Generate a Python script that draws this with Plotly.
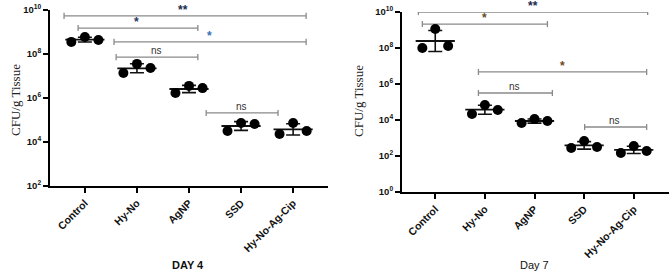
import numpy as np
import plotly.graph_objects as go

W, H = 669, 274

categories = ["Control", "Hy-No", "AgNP", "SSD", "Hy-No-Ag-Cip"]

# log10 CFU/g tissue, three replicates per group (left, middle, right point)
day4_log = [
    [8.55, 8.77, 8.64],
    [7.14, 7.55, 7.36],
    [6.23, 6.55, 6.45],
    [4.50, 4.86, 4.82],
    [4.36, 4.86, 4.50],
]
day7_log = [
    [8.00, 9.06, 8.11],
    [4.33, 4.83, 4.56],
    [3.83, 4.06, 3.94],
    [2.44, 2.83, 2.50],
    [2.17, 2.56, 2.28],
]

# significance comparisons: (start pos, end pos, log10 level, label, colour, label pos)
day4_sig = [
    (-0.40, 4.25, 9.73, "**", "#1c2a4e", 1.88),
    (-0.13, 2.17, 9.18, "*", "#24386a", 1.00),
    (0.56, 4.25, 8.55, "*", "#3b70b4", 2.40),
    (0.60, 2.17, 7.86, "ns", "#333333", 1.37),
    (2.33, 3.71, 5.32, "ns", "#333333", 3.00),
]
day7_sig = [
    (-0.34, 4.28, 10.00, "**", "#1c2a4e", 1.96),
    (-0.26, 2.26, 9.33, "*", "#6e4a22", 1.00),
    (0.87, 4.26, 6.67, "*", "#6e4a22", 2.57),
    (0.87, 2.36, 5.50, "ns", "#333333", 1.60),
    (3.01, 4.26, 3.61, "ns", "#333333", 3.62),
]

day4_ticks = [2, 4, 6, 8, 10]
day7_ticks = [0, 2, 4, 6, 8, 10]

jitter = [-0.26, 0.0, 0.26]

fig = go.Figure()


def add_panel(fig, data, sigs, xref, yref, tickcap_log):
    # brackets
    for (x0, x1, lv, lab, col, tx) in sigs:
        xs = [x0, x0, None, x0, x1, None, x1, x1]
        ys = [10 ** (lv - tickcap_log), 10 ** (lv + tickcap_log), None,
              10 ** lv, 10 ** lv, None,
              10 ** (lv - tickcap_log), 10 ** (lv + tickcap_log)]
        fig.add_trace(go.Scatter(x=xs, y=ys, mode="lines", xaxis=xref, yaxis=yref,
                                 line=dict(color="#8a8a8a", width=1.3),
                                 hoverinfo="skip", showlegend=False))
        is_star = lab != "ns"
        fig.add_annotation(x=tx, y=lv, xref=xref, yref=yref,
                           text=("<b>%s</b>" % lab) if is_star else lab,
                           showarrow=False, xanchor="center", yanchor="bottom",
                           yshift=-3 if is_star else -1,
                           font=dict(family="Liberation Sans, Arial",
                                     size=12 if is_star else 10, color=col))
    # mean +- SD (geometric)
    for i, vals in enumerate(data):
        v = np.array(vals)
        m = v.mean()
        s = v.std(ddof=1)
        fig.add_trace(go.Scatter(
            x=[i], y=[10 ** m], mode="markers", xaxis=xref, yaxis=yref,
            marker=dict(symbol="line-ew", size=28, line=dict(color="#111111", width=1.8)),
            error_y=dict(type="data", symmetric=False,
                         array=[10 ** (m + s) - 10 ** m],
                         arrayminus=[10 ** m - 10 ** (m - s)],
                         color="#111111", thickness=1.6, width=7),
            hoverinfo="skip", showlegend=False))
    # points
    xs, ys = [], []
    for i, vals in enumerate(data):
        for j, v in enumerate(vals):
            xs.append(i + jitter[j])
            ys.append(10 ** v)
    fig.add_trace(go.Scatter(x=xs, y=ys, mode="markers", xaxis=xref, yaxis=yref,
                             marker=dict(color="black", size=10, line=dict(width=0)),
                             hoverinfo="skip", showlegend=False))


add_panel(fig, day4_log, day4_sig, "x", "y", 0.14)
add_panel(fig, day7_log, day7_sig, "x2", "y2", 0.17)

tickfont = dict(family="Liberation Sans, Arial", size=9.5, color="#111111")
catfont = dict(family="Liberation Sans, Arial", size=10.5, color="#111111")

common_x = dict(showline=True, linecolor="black", linewidth=2, ticks="outside",
                ticklen=5, tickwidth=2, tickcolor="black", showgrid=False,
                zeroline=False, tickmode="array", tickvals=list(range(len(categories))),
                ticktext=["<b>%s</b>" % c for c in categories], tickangle=-45,
                tickfont=catfont)
common_y = dict(type="log", showline=True, linecolor="black", linewidth=2,
                ticks="outside", ticklen=5, tickwidth=2, tickcolor="black",
                showgrid=False, zeroline=False, tickmode="array", tickfont=tickfont)

fig.update_layout(
    template="none",
    width=W, height=H, margin=dict(l=0, r=0, t=0, b=0),
    paper_bgcolor="white", plot_bgcolor="white", showlegend=False,
    hovermode=False,
    font=dict(family="Liberation Sans, Arial", color="#111111"),
    xaxis=dict(common_x, domain=[50 / W, 328 / W], range=[-0.67, 4.67], anchor="y"),
    yaxis=dict(common_y, domain=[1 - 186 / H, 1 - 10 / H], range=[2, 10], anchor="x",
               tickvals=[10 ** t for t in day4_ticks],
               ticktext=["<b>10<sup>%d</sup></b>" % t for t in day4_ticks]),
    xaxis2=dict(common_x, domain=[402 / W, 1.0], range=[-0.67, 4.71], anchor="y2"),
    yaxis2=dict(common_y, domain=[1 - 192 / H, 1 - 12 / H], range=[0, 10], anchor="x2",
                tickvals=[10 ** t for t in day7_ticks],
                ticktext=["<b>10<sup>%d</sup></b>" % t for t in day7_ticks]),
)

serif = dict(family="Liberation Serif, Times New Roman", size=13, color="#222222")
fig.add_annotation(x=15 / W, y=1 - 100 / H, xref="paper", yref="paper", text="CFU/g Tissue",
                   textangle=-90, showarrow=False, xanchor="center", yanchor="middle", font=serif)
fig.add_annotation(x=359 / W, y=1 - 101 / H, xref="paper", yref="paper", text="CFU/g Tissue",
                   textangle=-90, showarrow=False, xanchor="center", yanchor="middle", font=serif)
fig.add_annotation(x=188 / W, y=1 - 265 / H, xref="paper", yref="paper", text="<b>DAY 4</b>",
                   showarrow=False, xanchor="center", yanchor="middle",
                   font=dict(family="Liberation Sans, Arial", size=11, color="#111111"))
fig.add_annotation(x=534 / W, y=1 - 265 / H, xref="paper", yref="paper", text="Day 7",
                   showarrow=False, xanchor="center", yanchor="middle",
                   font=dict(family="Liberation Sans, Arial", size=11, color="#111111"))

fig.write_html(
    "out.html",
    config={"displayModeBar": False, "staticPlot": True},
    post_script="document.body.style.margin='0';document.body.style.padding='0';"
                "document.documentElement.style.overflow='hidden';",
)
